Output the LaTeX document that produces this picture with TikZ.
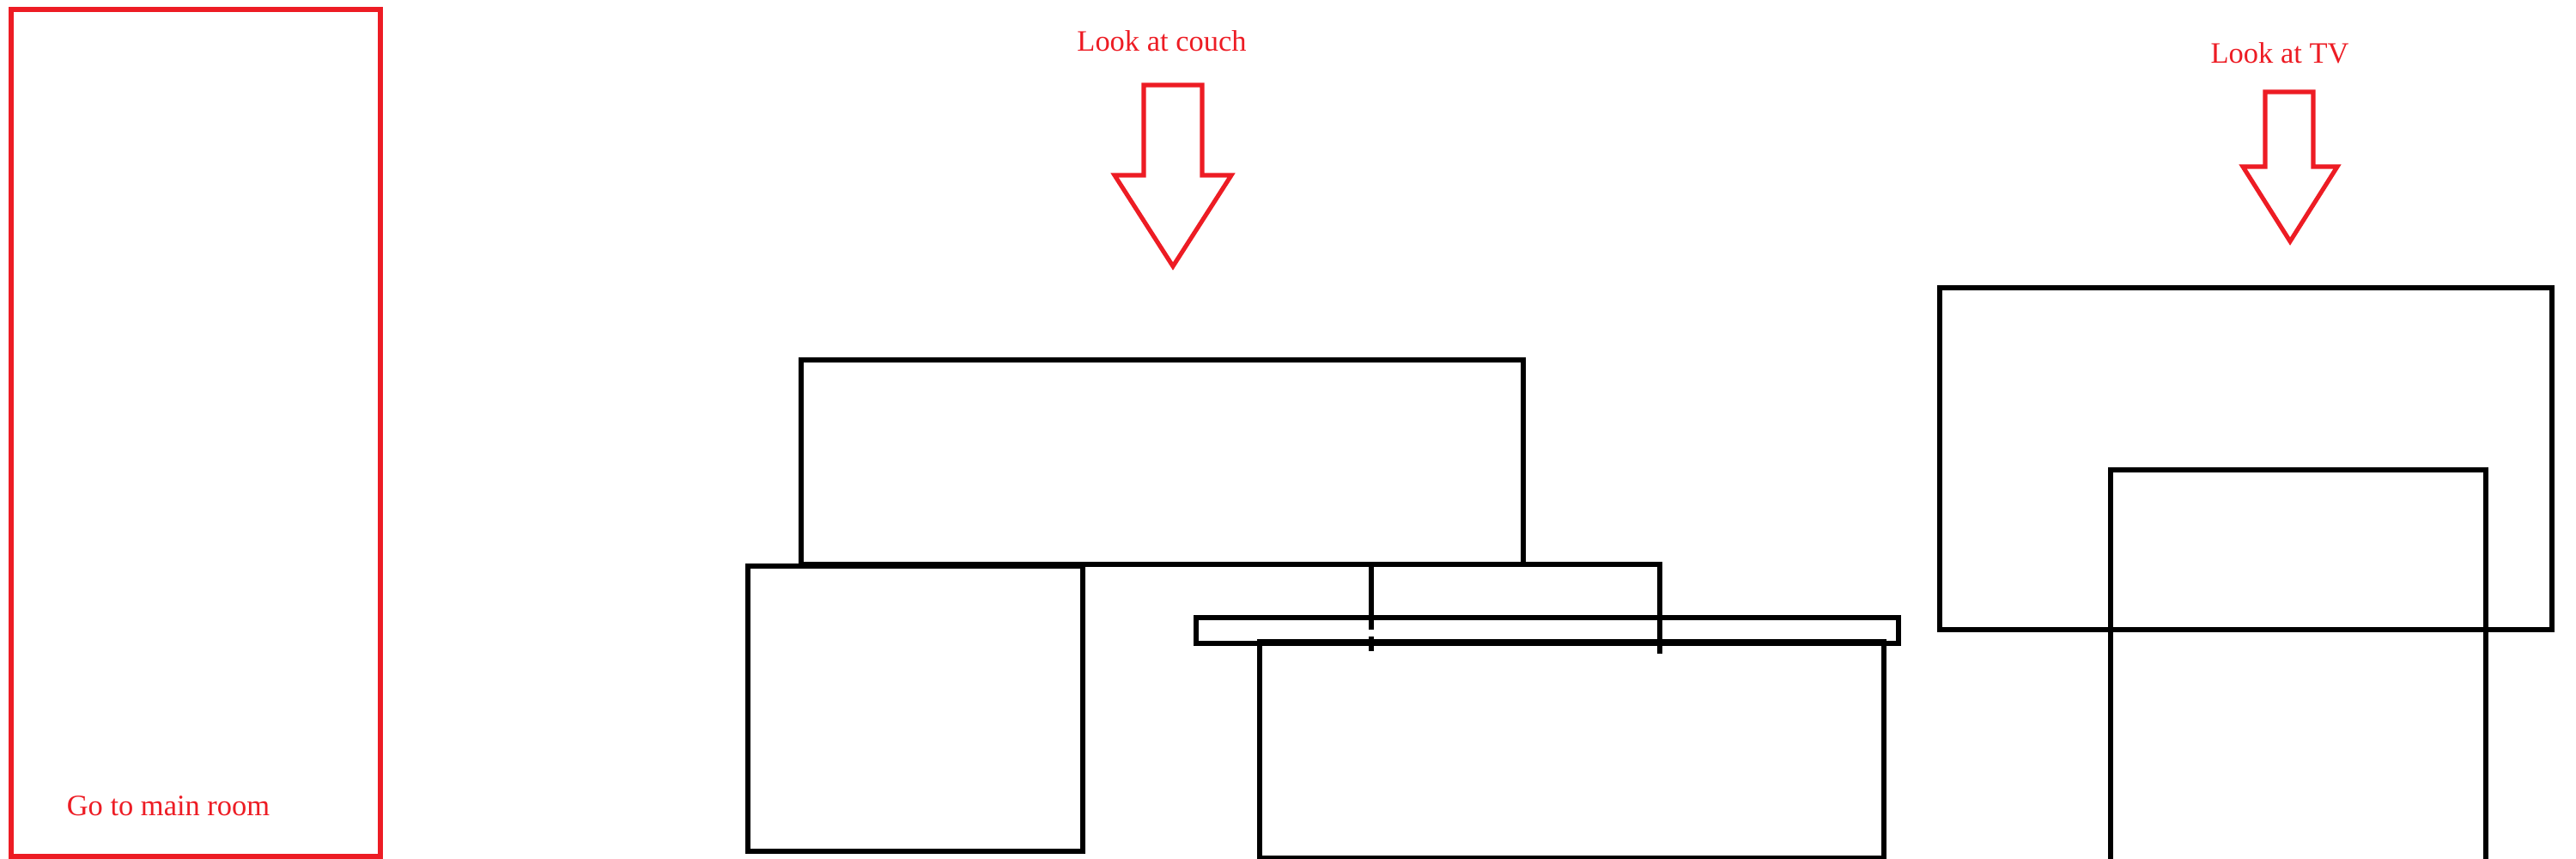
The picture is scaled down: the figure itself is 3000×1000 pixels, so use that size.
\documentclass[tikz,border=0pt]{standalone}
\usepackage{fontspec}
\setmainfont{Liberation Serif}
\definecolor{paintred}{RGB}{237,28,36}
\begin{document}
\begin{tikzpicture}[x=0.01cm,y=-0.01cm,
  redline/.style={draw=paintred,line width=1.45pt},
  blackline/.style={draw=black,line width=1.45pt},
  label/.style={text=paintred,font=\fontsize{9.8pt}{11pt}\selectfont,inner sep=0pt,anchor=base}]
\clip (0,0) rectangle (3000,1000);
\fill[white] (0,0) rectangle (3000,1000);
% door / main room
\draw[redline] (13,11) rectangle (443,997);
\node[label] (gotext) at (196,949) {Go to main room};
% couch arrow
\node[label] (couchtext) at (1353,60) {Look at couch};
\draw[redline] (1332,99) -- (1400,99) -- (1400,204) -- (1434,204) -- (1366,310) -- (1298,204) -- (1332,204) -- cycle;
% TV arrow
\node[label] (tvtext) at (2655,73) {Look at TV};
\draw[redline] (2638,107) -- (2694,107) -- (2694,194) -- (2722,194) -- (2667,281) -- (2612,194) -- (2638,194) -- cycle;
% couch
\draw[blackline] (933,419) rectangle (1774,657);
\draw[blackline] (871,659) rectangle (1261,991);
\draw[blackline] (1597,733) -- (1597,657) -- (1933,657) -- (1933,761);
\draw[blackline] (1597,741) -- (1597,758);
\draw[blackline] (1393,719) rectangle (2211,749);
\draw[blackline] (1467,747) rectangle (2194,999);
% TV
\draw[blackline] (2259,335) rectangle (2972,733);
\draw[blackline] (2458,547) rectangle (2895,1010);
\end{tikzpicture}
\end{document}
